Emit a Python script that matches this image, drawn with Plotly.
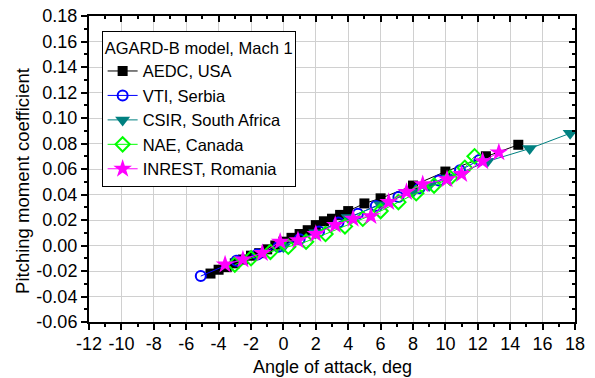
import plotly.graph_objects as go

# ---- data ----
aedc_x = [-4.5, -4.0, -3.5, -3.0, -2.5, -2.0, -1.5, -1.0, -0.5, 0.0, 0.5, 1.0, 1.5, 2.0, 2.5, 3.0, 3.5, 4.0, 5.0, 6.0, 8.0, 10.0, 12.5, 14.5]
aedc_y = [-0.022, -0.019, -0.017, -0.014, -0.011, -0.008, -0.006, -0.003, 0.000, 0.003, 0.006, 0.009, 0.012, 0.016, 0.019, 0.021, 0.024, 0.027, 0.033, 0.037, 0.047, 0.058, 0.070, 0.079]

vti_x = [-5.1, -2.9, -1.6, -0.3, 1.0, 2.2, 3.4, 4.6, 5.7, 7.1, 8.4, 9.6, 10.9, 12.1]
vti_y = [-0.024, -0.012, -0.007, -0.001, 0.005, 0.011, 0.018, 0.025, 0.031, 0.038, 0.045, 0.051, 0.059, 0.067]

csir_x = [0.0, 2.0, 4.0, 6.0, 8.0, 9.0, 10.2, 12.6, 15.2, 17.7]
csir_y = [-0.001, 0.010, 0.022, 0.032, 0.042, 0.047, 0.053, 0.066, 0.076, 0.088]

nae_x = [-3.0, -2.0, -0.8, 0.3, 1.4, 2.6, 3.8, 4.9, 6.0, 7.1, 8.2, 9.3, 10.3, 11.2, 11.8]
nae_y = [-0.015, -0.010, -0.005, -0.001, 0.003, 0.009, 0.015, 0.021, 0.027, 0.034, 0.041, 0.047, 0.053, 0.061, 0.070]

inrest_x = [-3.6, -2.5, -1.3, -0.2, 0.9, 2.0, 3.2, 4.3, 5.4, 6.5, 7.6, 8.6, 10.1, 11.0, 12.3, 13.3]
inrest_y = [-0.015, -0.011, -0.006, 0.003, 0.004, 0.009, 0.016, 0.021, 0.023, 0.034, 0.042, 0.048, 0.052, 0.056, 0.066, 0.073]

x_ticks = list(range(-12, 19, 2))
x_ticktext = [str(v) for v in x_ticks]
y_ticks = [-0.06, -0.04, -0.02, 0.00, 0.02, 0.04, 0.06, 0.08, 0.10, 0.12, 0.14, 0.16, 0.18]
y_ticktext = ["%.2f" % v for v in y_ticks]

x_title = "Angle of attack, deg"
y_title = "Pitching moment coefficient"
legend_title = "AGARD-B model, Mach 1"

FONT = "Liberation Sans, Arial, sans-serif"

series = [
    ("AEDC, USA", aedc_x, aedc_y, "black", dict(symbol="square", size=10, color="black")),
    ("VTI, Serbia", vti_x, vti_y, "#0000ff", dict(symbol="circle-open", size=10, color="#0000ff", line=dict(width=2))),
    ("CSIR, South Africa", csir_x, csir_y, "#008080", dict(symbol="triangle-down", size=13, color="#008080")),
    ("NAE, Canada", nae_x, nae_y, "#00ff00", dict(symbol="diamond-open", size=11, color="#00ff00", line=dict(width=2))),
    ("INREST, Romania", inrest_x, inrest_y, "#ff00ff", dict(symbol="star", size=14, color="#ff00ff", line=dict(width=0))),
]

fig = go.Figure()
for name, xs, ys, col, mk in series:
    fig.add_trace(go.Scatter(x=xs, y=ys, name=name, mode="lines+markers",
                             line=dict(color=col, width=1), marker=mk))

# dummy trace to activate overlay axes (inside ticks on top/right)
fig.add_trace(go.Scatter(x=[None], y=[None], xaxis="x2", yaxis="y2", showlegend=False, hoverinfo="skip"))

fig.update_layout(
    width=595, height=378,
    margin=dict(l=89, r=20, t=16, b=56),
    paper_bgcolor="white", plot_bgcolor="white",
    font=dict(family=FONT, size=18, color="black"),
    xaxis=dict(range=[-12, 18], tickvals=x_ticks, ticktext=x_ticktext, automargin=False,
               showgrid=True, gridcolor="#d0d0d0", gridwidth=1, zeroline=False,
               showline=True, linecolor="black", linewidth=2, mirror=True,
               ticks="outside", ticklen=6, tickwidth=1.5, tickcolor="black",
               ticklabelstandoff=-2,
               minor=dict(dtick=1, ticks="outside", ticklen=3, tickwidth=1.5, tickcolor="black", showgrid=False),
               tickfont=dict(size=18)),
    yaxis=dict(range=[-0.06, 0.18], tickvals=y_ticks, ticktext=y_ticktext, automargin=False,
               showgrid=True, gridcolor="#d0d0d0", gridwidth=1, zeroline=False,
               showline=True, linecolor="black", linewidth=2, mirror=True,
               ticks="outside", ticklen=6, tickwidth=1.5, tickcolor="black",
               minor=dict(dtick=0.01, ticks="outside", ticklen=3, tickwidth=1.5, tickcolor="black", showgrid=False),
               tickfont=dict(size=18)),
    xaxis2=dict(range=[-12, 18], overlaying="x", side="top", anchor="y2", automargin=False,
                tickvals=x_ticks, showticklabels=False, showgrid=False, zeroline=False,
                ticks="inside", ticklen=6, tickwidth=1.5, tickcolor="black",
                minor=dict(dtick=1, ticks="inside", ticklen=3, tickwidth=1.5, tickcolor="black", showgrid=False)),
    yaxis2=dict(range=[-0.06, 0.18], overlaying="y", side="right", anchor="x2", automargin=False,
                tickvals=y_ticks, showticklabels=False, showgrid=False, zeroline=False,
                ticks="inside", ticklen=6, tickwidth=1.5, tickcolor="black",
                minor=dict(dtick=0.01, ticks="inside", ticklen=3, tickwidth=1.5, tickcolor="black", showgrid=False)),
    legend=dict(x=0.026, y=0.95, xanchor="left", yanchor="top",
                bgcolor="white", bordercolor="black", borderwidth=1,
                font=dict(size=16.5), tracegroupgap=0,
                title=dict(text=legend_title, font=dict(size=16.5))),
    showlegend=True,
    annotations=[
        dict(text=x_title, xref="paper", yref="paper", x=0.5, y=-0.147,
             xanchor="center", yanchor="middle", showarrow=False, font=dict(size=18)),
        dict(text=y_title, xref="paper", yref="paper", x=-0.1358, y=0.461, textangle=-90,
             xanchor="center", yanchor="middle", showarrow=False, font=dict(size=18.5)),
    ],
)

fig.write_html("out.html", config={"displayModeBar": False},
               post_script="document.body.style.margin='0';document.body.style.padding='0';")
